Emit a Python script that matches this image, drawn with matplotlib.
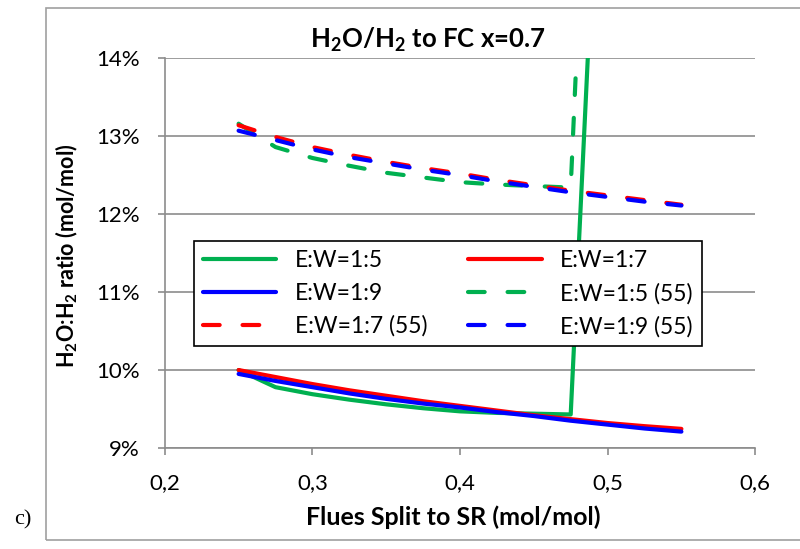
"""
plot.py - H2O/H2 ratio to FC vs flues split to SR, six E:W cases.
"""
import matplotlib
matplotlib.use("Agg")
import matplotlib.pyplot as plt
from matplotlib.patches import Rectangle
from matplotlib.ticker import FuncFormatter

plt.rcParams["font.family"] = ["Lato", "DejaVu Sans"]
plt.rcParams["mathtext.fontset"] = "custom"
plt.rcParams["mathtext.rm"] = "Lato"
plt.rcParams["mathtext.bf"] = "Lato:bold"
plt.rcParams["mathtext.default"] = "bf"

# ---------------------------------------------------------------------------
# Data (ratio in %)
# ---------------------------------------------------------------------------
split = [0.25, 0.275, 0.3, 0.325, 0.35, 0.375, 0.4, 0.425, 0.45, 0.475,
         0.5, 0.525, 0.55]

split_15 = [0.25, 0.275, 0.3, 0.325, 0.35, 0.375, 0.4, 0.425, 0.45, 0.475, 0.5]
ew15 = [10.00, 9.78, 9.69, 9.62, 9.56, 9.51, 9.47, 9.45, 9.44, 9.43, 19.3]
ew17 = [10.00, 9.91, 9.82, 9.74, 9.67, 9.60, 9.54, 9.48, 9.42, 9.37,
        9.32, 9.28, 9.245]
ew19 = [9.95, 9.86, 9.78, 9.70, 9.63, 9.57, 9.52, 9.46, 9.41, 9.35,
        9.30, 9.25, 9.21]

ew15_55 = [13.16, 12.86, 12.72, 12.62, 12.53, 12.47, 12.41, 12.38, 12.36,
           12.34, 23.0]
ew17_55 = [13.14, 12.99, 12.86, 12.76, 12.67, 12.59, 12.52, 12.44, 12.37,
           12.30, 12.24, 12.18, 12.12]
ew19_55 = [13.07, 12.95, 12.83, 12.73, 12.65, 12.57, 12.50, 12.42, 12.35,
           12.28, 12.22, 12.16, 12.11]

x_ticks = [0.2, 0.3, 0.4, 0.5, 0.6]
y_ticks = [9, 10, 11, 12, 13, 14]

GREEN = "#00B050"
RED = "#FF0000"
BLUE = "#0000FF"
GRID = "#8C8C8C"
DASH = (0, (4, 5.5))

# ---------------------------------------------------------------------------
# Figure
# ---------------------------------------------------------------------------
fig = plt.figure(figsize=(8.0, 5.49), dpi=100)
ax = fig.add_axes([0.206, 0.184, 0.738, 0.710])

# outer chart frame (right edge runs off the picture) and panel letter
fig.patches.append(Rectangle((0.057, 0.017), 0.96, 0.968,
                             transform=fig.transFigure, fill=False,
                             edgecolor="#A0A0A0", linewidth=1.2))
fig.text(0.018, 0.035, "c)", fontsize=16, family="Liberation Serif",
         ha="left", va="bottom")

lw = 3.0
h1, = ax.plot(split_15, ew15, color=GREEN, lw=lw, label="E:W=1:5",
              solid_capstyle="round")
h2, = ax.plot(split, ew17, color=RED, lw=lw, label="E:W=1:7",
              solid_capstyle="round")
h3, = ax.plot(split, ew19, color=BLUE, lw=lw, label="E:W=1:9",
              solid_capstyle="round")
h4, = ax.plot(split_15, ew15_55, color=GREEN, lw=lw, ls=DASH,
              dash_capstyle="round", label="E:W=1:5 (55)")
h5, = ax.plot(split, ew17_55, color=RED, lw=lw, ls=DASH,
              dash_capstyle="round", label="E:W=1:7 (55)")
h6, = ax.plot(split, ew19_55, color=BLUE, lw=lw, ls=DASH,
              dash_capstyle="round", label="E:W=1:9 (55)")

ax.set_xlim(0.2, 0.6)
ax.set_ylim(9, 14)
ax.set_xticks(x_ticks)
ax.set_yticks(y_ticks)
ax.xaxis.set_major_formatter(FuncFormatter(lambda v, p: f"{v:.1f}".replace(".", ",")))
ax.yaxis.set_major_formatter(FuncFormatter(lambda v, p: f"{v:.0f}%"))
ax.tick_params(axis="both", labelsize=16, color=GRID, length=5, width=1.2,
               direction="out")
ax.tick_params(axis="x", pad=13)
ax.tick_params(axis="y", pad=13)

ax.grid(axis="y", color=GRID, linewidth=1.2)
ax.set_axisbelow(True)
for side in ("top", "right"):
    ax.spines[side].set_visible(False)
for side in ("left", "bottom"):
    ax.spines[side].set_color(GRID)
    ax.spines[side].set_linewidth(1.2)

# titles placed on the chart area, like the spreadsheet original
fig.text(0.535, 0.9126, "H$_2$O/H$_2$ to FC x=0.7", fontsize=18.5,
         fontweight="bold", ha="center", va="baseline")
fig.text(0.566, 0.0437, "Flues Split to SR (mol/mol)", fontsize=18,
         fontweight="bold", ha="center", va="baseline")
fig.text(0.084, 0.534, "H$_2$O:H$_2$ ratio (mol/mol)", fontsize=15.5,
         fontweight="bold", ha="center", va="center", rotation=90)

# legend: two columns, row order as in reference
order = [h1, h3, h5, h2, h4, h6]
leg = ax.legend(order, [h.get_label() for h in order],
                ncol=2, loc="upper left",
                bbox_to_anchor=(0.049, 0.531),
                fontsize=16.5, handlelength=3.2, frameon=True, fancybox=False,
                framealpha=1.0, edgecolor="black", borderpad=0.4,
                labelspacing=0.5, handletextpad=0.8, columnspacing=1.8,
                borderaxespad=0.0)
leg.get_frame().set_linewidth(1.2)

fig.savefig("out.png", dpi=100)
